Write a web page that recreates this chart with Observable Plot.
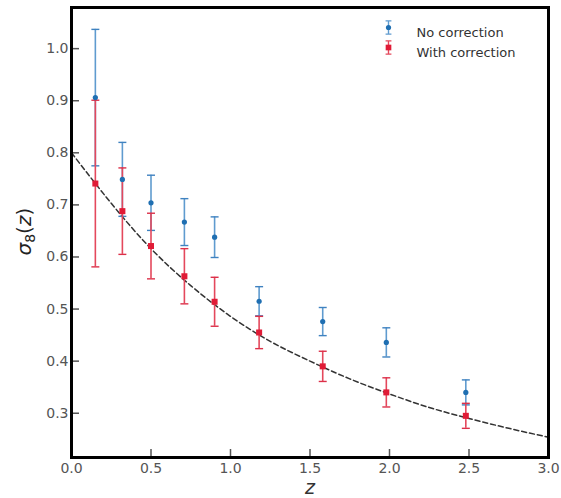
<!DOCTYPE html>
<html><head><meta charset="utf-8">
<script src="https://cdn.jsdelivr.net/npm/d3@7"></script>
<script src="https://cdn.jsdelivr.net/npm/@observablehq/plot@0.6"></script>
<style>
body{margin:0;background:#fff}
svg{font-family:"DejaVu Sans",sans-serif}
</style>
</head><body><div id="chart"></div>
<script>
// Redshift bins
const zBins = [0.15, 0.32, 0.50, 0.71, 0.90, 1.18, 1.58, 1.98, 2.48];
// No correction
const sigmaNo = [0.906, 0.749, 0.704, 0.667, 0.638, 0.515, 0.476, 0.436, 0.340];
const errNo   = [0.131, 0.071, 0.053, 0.045, 0.039, 0.028, 0.027, 0.028, 0.024];
// With correction
const sigmaWith = [0.741, 0.688, 0.621, 0.563, 0.514, 0.455, 0.390, 0.340, 0.295];
const errWith   = [0.160, 0.083, 0.063, 0.053, 0.047, 0.031, 0.029, 0.028, 0.024];
// Model curve (dashed)
const zModel = [0, 0.25, 0.5, 0.75, 1.0, 1.25, 1.5, 1.75, 2.0, 2.25, 2.5, 2.75, 3.0];
const sigmaModel = [0.800, 0.703, 0.616, 0.545, 0.486, 0.438, 0.400, 0.366, 0.337, 0.311, 0.290, 0.271, 0.254];
// Ticks
const xTicks = [0, 0.5, 1.0, 1.5, 2.0, 2.5, 3.0];
const yTicks = [0.3, 0.4, 0.5, 0.6, 0.7, 0.8, 0.9, 1.0];
const seriesNames = ["No correction", "With correction"];

const noData = zBins.map((z, i) => ({z, s: sigmaNo[i], e: errNo[i]}));
const withData = zBins.map((z, i) => ({z, s: sigmaWith[i], e: errWith[i]}));
const model = zModel.map((z, i) => ({z, s: sigmaModel[i]}));

const blue = "#1f6fb2", blueErr = "#5f9bcf", blueCap = "#3f82c0";
const red = "#e01b36", redErr = "#e4485c", redCap = "#dc3049";

const capSym = {draw(ctx, size) { const w = Math.sqrt(size); ctx.moveTo(-w/2, 0); ctx.lineTo(w/2, 0); }};
const errSym = {draw(ctx, size) { const h = Math.sqrt(size); const c = h * 0.22;
  ctx.moveTo(0, -h/2); ctx.lineTo(0, h/2);
  ctx.moveTo(-c, -h/2); ctx.lineTo(c, -h/2);
  ctx.moveTo(-c, h/2); ctx.lineTo(c, h/2); }};

function errMarks(data, lineColor, capColor) {
  return [
    Plot.ruleX(data, {x: "z", y1: d => d.s - d.e, y2: d => d.s + d.e, stroke: lineColor, strokeWidth: 1.6}),
    Plot.dot(data, {x: "z", y: d => d.s - d.e, symbol: capSym, r: 4.5, stroke: capColor, strokeWidth: 1.4, fill: "none"}),
    Plot.dot(data, {x: "z", y: d => d.s + d.e, symbol: capSym, r: 4.5, stroke: capColor, strokeWidth: 1.4, fill: "none"})
  ];
}

const chart = Plot.plot({
  width: 561,
  height: 498,
  marginLeft: 71,
  marginRight: 13,
  marginTop: 7,
  marginBottom: 41,
  style: {background: "#fff", fontFamily: "DejaVu Sans, sans-serif"},
  x: {domain: [0, 3.0]},
  y: {domain: [0.215, 1.079]},
  marks: [
    Plot.line(model, {x: "z", y: "s", stroke: "#333", strokeWidth: 1.5, strokeDasharray: "5,3", curve: "natural"}),
    ...errMarks(noData, blueErr, blueCap),
    ...errMarks(withData, redErr, redCap),
    Plot.dot(noData, {x: "z", y: "s", r: 2.6, fill: blue}),
    Plot.dot(withData, {x: "z", y: "s", symbol: "square", r: 3.4, fill: red}),
    Plot.axisY(yTicks, {anchor: "left", tickSize: -8, tickPadding: 11, tickFormat: d3.format(".1f"), fontSize: 14, color: "#555", label: null, strokeWidth: 1.5}),
    Plot.axisX(xTicks, {anchor: "bottom", tickSize: -8, tickPadding: 14, tickFormat: d3.format(".1f"), fontSize: 14, color: "#555", label: null, strokeWidth: 1.5}),
    Plot.frame({stroke: "#000", strokeWidth: 3}),
    // axis titles
    Plot.text(["z"], {frameAnchor: "bottom", dy: 36, fontSize: 19, fontStyle: "italic", fill: "#333"}),
    Plot.text(["σ₈(z)"], {frameAnchor: "left", dx: -47, dy: 23, rotate: -90, fontSize: 20, fill: "#222", className: "ylab"}),
    // legend
    Plot.dot([seriesNames[0]], {frameAnchor: "top-right", dx: -160, dy: 20, symbol: errSym, r: 7.5, stroke: blueErr, strokeWidth: 1.4, fill: "none"}),
    Plot.dot([seriesNames[0]], {frameAnchor: "top-right", dx: -160, dy: 20, r: 2.6, fill: blue}),
    Plot.text([seriesNames[0]], {frameAnchor: "top-right", dx: -132, dy: 20, textAnchor: "start", fontSize: 13, fill: "#333"}),
    Plot.dot([seriesNames[1]], {frameAnchor: "top-right", dx: -160, dy: 40, symbol: errSym, r: 7.5, stroke: redErr, strokeWidth: 1.4, fill: "none"}),
    Plot.dot([seriesNames[1]], {frameAnchor: "top-right", dx: -160, dy: 40, symbol: "square", r: 3.2, fill: red}),
    Plot.text([seriesNames[1]], {frameAnchor: "top-right", dx: -132, dy: 40, textAnchor: "start", fontSize: 13, fill: "#333"})
  ]
});
// style the y label as math: italic sigma and z, subscript 8
d3.select(chart).selectAll("g.ylab text").each(function() {
  const t = d3.select(this);
  t.text(null);
  t.append("tspan").attr("font-style", "italic").text("σ");
  t.append("tspan").attr("font-size", 14).attr("dy", 4).text("8");
  t.append("tspan").attr("dy", -4).text("(");
  t.append("tspan").attr("font-style", "italic").text("z");
  t.append("tspan").text(")");
});
document.getElementById("chart").appendChild(chart);
</script>
</body></html>
